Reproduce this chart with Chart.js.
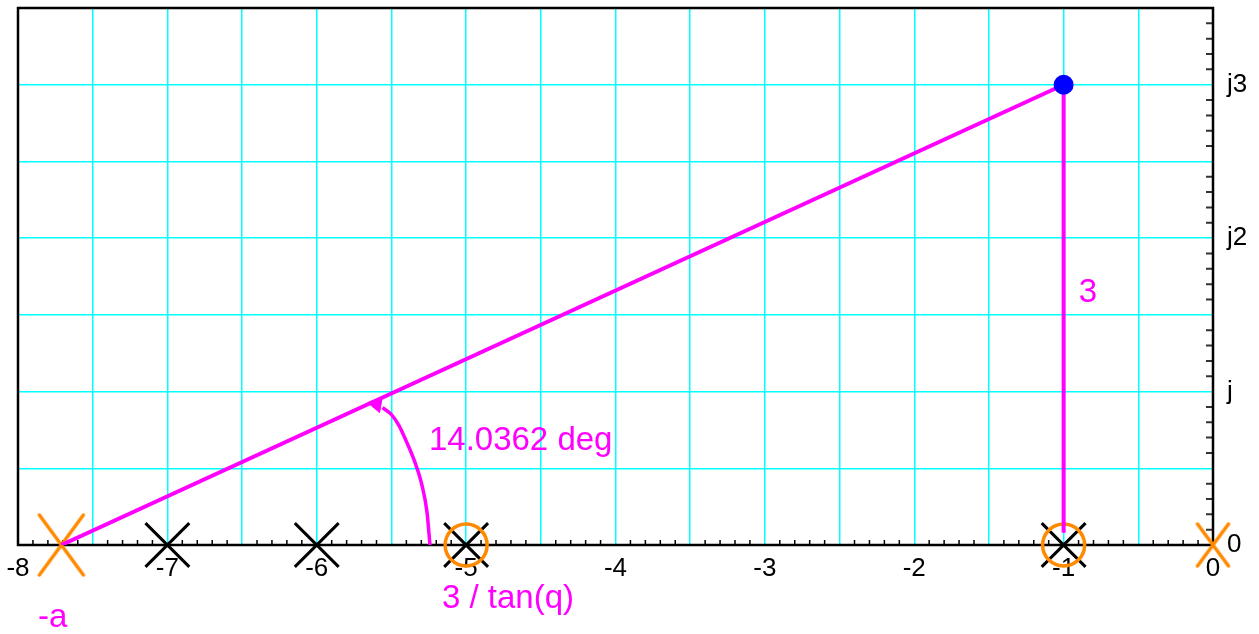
<!DOCTYPE html>
<html>
<head>
<meta charset="utf-8">
<script src="https://cdn.jsdelivr.net/npm/chart.js@4.4.1/dist/chart.umd.min.js"></script>
<style>
  html, body { margin: 0; padding: 0; background: #fff; }
  #wrap { width: 1259px; height: 634px; position: relative; }
</style>
</head>
<body>
<div id="wrap"><canvas id="rootLocus"></canvas></div>
<script>
// s-plane values
const poleX = [-7, -6, -5, -1];          // black x's on the real axis
const zeroX = [-5, -1];                  // orange circles
const extraPoleX = [-7.71, 0];           // orange x's (-a and origin)
const testX = [-1], testY = [3];         // blue point
const hypX = [-7.71, -1], hypY = [0, 3];
const vertX = [-1, -1], vertY = [3, 0.08];
const arcX = [-5.56, -5.5, -5.45, -5.41, -5.343, -5.296, -5.262, -5.242];
const arcY = [0.895, 0.85, 0.78, 0.697, 0.54, 0.391, 0.215, 0];
const arrowX = [-5.6], arrowY = [0.918];
const yTickText = { 0: "0", 1: "j", 2: "j2", 3: "j3" };
const notes = [
  { text: "-a", x: -7.866, y: -0.534 },
  { text: "3 / tan(q)", x: -5.162, y: -0.41 },
  { text: "14.0362 deg", x: -5.249, y: 0.618 },
  { text: "3", x: -0.898, y: 1.582 }
];

const MAGENTA = "#ff00ff";
const ORANGE = "#ff8a00";
const CYAN = "#00ffff";

Chart.defaults.font.family = "'Liberation Sans', Arial, sans-serif";

function pts(xs, ys) {
  return xs.map((x, i) => ({ x: x, y: ys ? ys[i] : 0 }));
}

// stretched x used for the orange markers
function stretchedCross(w, h) {
  const c = document.createElement("canvas");
  c.width = w; c.height = h;
  const g = c.getContext("2d");
  g.strokeStyle = ORANGE;
  g.lineWidth = 3.5;
  g.lineCap = "round";
  g.beginPath();
  g.moveTo(3, 3); g.lineTo(w - 3, h - 3);
  g.moveTo(w - 3, 3); g.lineTo(3, h - 3);
  g.stroke();
  return c;
}

const framePlugin = {
  id: "frameAndTicks",
  beforeDatasetsDraw(chart) {
    const ctx = chart.ctx;
    const a = chart.chartArea;
    const xs = chart.scales.x, ys = chart.scales.y;
    ctx.save();
    // minor ticks on the real axis (pointing up)
    ctx.strokeStyle = "#000";
    ctx.lineWidth = 1.5;
    ctx.beginPath();
    for (let i = 1; i < 80; i++) {
      if (i % 5 === 0) continue;
      const px = xs.getPixelForValue(-8 + i / 10);
      ctx.moveTo(px, a.bottom);
      ctx.lineTo(px, a.bottom - 5);
    }
    ctx.stroke();
    // minor ticks on the imaginary axis (pointing left)
    ctx.strokeStyle = "#333";
    ctx.lineWidth = 2;
    ctx.beginPath();
    for (let i = 1; i < 35; i++) {
      if (i % 5 === 0) continue;
      const py = ys.getPixelForValue(i / 10);
      ctx.moveTo(a.right, py);
      ctx.lineTo(a.right - 7, py);
    }
    ctx.stroke();
    // frame
    ctx.strokeStyle = "#000";
    ctx.lineWidth = 2.5;
    ctx.strokeRect(a.left, a.top, a.right - a.left, a.bottom - a.top);
    ctx.restore();
  },
  afterDatasetsDraw(chart) {
    const ctx = chart.ctx;
    const xs = chart.scales.x, ys = chart.scales.y;
    ctx.save();
    ctx.fillStyle = MAGENTA;
    ctx.font = "33px 'Liberation Sans', Arial, sans-serif";
    ctx.textAlign = "left";
    ctx.textBaseline = "alphabetic";
    for (const n of notes) {
      ctx.fillText(n.text, xs.getPixelForValue(n.x), ys.getPixelForValue(n.y));
    }
    ctx.restore();
  }
};

new Chart(document.getElementById("rootLocus"), {
  type: "scatter",
  data: {
    datasets: [
      {
        data: pts(testX, testY),
        pointRadius: 10,
        pointBackgroundColor: "#0000ff",
        pointBorderWidth: 0,
        order: 0,
        clip: false
      },
      {
        data: pts(hypX, hypY),
        showLine: true,
        borderColor: MAGENTA,
        borderWidth: 4,
        pointRadius: 0,
        order: 1
      },
      {
        data: pts(vertX, vertY),
        showLine: true,
        borderColor: MAGENTA,
        borderWidth: 4,
        pointRadius: 0,
        order: 1
      },
      {
        data: pts(arcX, arcY),
        showLine: true,
        cubicInterpolationMode: "monotone",
        borderColor: MAGENTA,
        borderWidth: 3.5,
        pointRadius: 0,
        order: 1
      },
      {
        data: pts(arrowX, arrowY),
        pointStyle: "triangle",
        pointRotation: -80,
        pointRadius: 9,
        pointBackgroundColor: MAGENTA,
        pointBorderColor: MAGENTA,
        pointBorderWidth: 1,
        order: 1
      },
      {
        data: pts(zeroX),
        pointStyle: "circle",
        pointRadius: 21,
        pointBackgroundColor: "rgba(0,0,0,0)",
        pointBorderColor: ORANGE,
        pointBorderWidth: 3.5,
        order: 2,
        clip: false
      },
      {
        data: pts(extraPoleX),
        pointStyle: [stretchedCross(50, 66), stretchedCross(37, 48)],
        order: 3,
        clip: false
      },
      {
        data: pts(poleX),
        pointStyle: "crossRot",
        pointRadius: 31,
        pointBorderColor: "#000",
        pointBorderWidth: 3,
        order: 4,
        clip: false
      }
    ]
  },
  options: {
    responsive: true,
    maintainAspectRatio: false,
    animation: false,
    layout: { autoPadding: false, padding: { left: 18, top: 8, right: 0, bottom: 0 } },
    plugins: { legend: { display: false }, tooltip: { enabled: false } },
    scales: {
      x: {
        type: "linear",
        position: "bottom",
        min: -8,
        max: 0,
        afterFit: (scale) => {
          scale.height = 89;
          scale.paddingLeft = 0;
          scale.paddingRight = 0;
        },
        grid: { color: CYAN, lineWidth: 1.5, drawTicks: false },
        border: { color: "#000", width: 2 },
        ticks: {
          stepSize: 0.5,
          autoSkip: false,
          maxRotation: 0,
          padding: 8,
          color: "#000",
          font: { size: 26 },
          callback: (v) => (Number.isInteger(v) ? String(v) : "")
        }
      },
      y: {
        type: "linear",
        position: "right",
        min: 0,
        max: 3.5,
        afterFit: (scale) => {
          scale.width = 46;
          scale.paddingTop = 0;
          scale.paddingBottom = 0;
        },
        grid: { color: CYAN, lineWidth: 1.5, drawTicks: false },
        border: { color: "#000", width: 2 },
        ticks: {
          stepSize: 0.5,
          autoSkip: false,
          padding: 14,
          color: "#000",
          font: { size: 26 },
          callback: (v) => yTickText[v] ?? ""
        }
      }
    }
  },
  plugins: [framePlugin]
});
</script>
</body>
</html>
